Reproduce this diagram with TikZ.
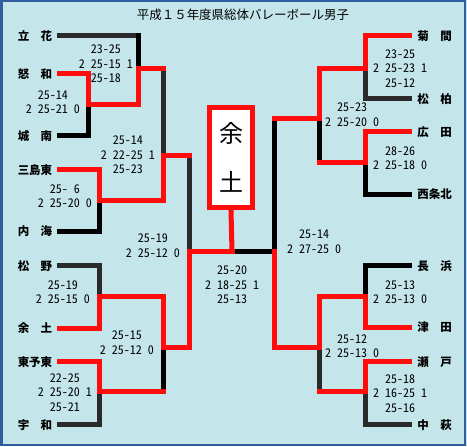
\documentclass[tikz,border=0pt]{standalone}
\usepackage{fontspec}
\setmainfont{Noto Sans CJK JP}
\newfontfamily\scorefont[RawFeature=+hwid]{Noto Sans CJK JP}
\usepackage{xcolor}
\usepackage{tikz}
\definecolor{cBg}{HTML}{C4E6EA}
\definecolor{cFrame}{HTML}{2F5D9E}
\definecolor{cWin}{HTML}{FF0D0D}
\definecolor{cLose}{HTML}{000000}
\definecolor{cDim}{HTML}{2A2A2A}
\tikzset{
  team/.style={inner sep=0pt, outer xsep=7.5pt, minimum width=34pt, font=\fontsize{11.5}{14}\selectfont\bfseries},
  score/.style={inner sep=0pt, align=center, font=\scorefont\fontsize{12}{14.5}\selectfont},
  seg/.style={line width=5pt, line cap=rect, line join=miter},
  win/.style={seg, draw=cWin},
  lose/.style={seg, draw=cLose},
  dim/.style={seg, draw=cDim},
  champ/.style={rectangle, draw=cWin, line width=5pt, fill=white, minimum width=43pt, minimum height=100pt,
    inner sep=0pt, align=center, font=\fontsize{24}{49}\selectfont},
  headline/.style={inner sep=0pt, font=\fontsize{12.5}{14}\selectfont},
}
\begin{document}
\begin{tikzpicture}[x=1pt, y=-1pt]
\fill[cBg] (0,0) rectangle (467,446);
\draw[cFrame, line width=2.5pt] (1.25,1) rectangle (465,444.75);
\useasboundingbox (0,0) rectangle (467,446);

\node[headline] (head) at (243,15) {平成１５年度県総体バレーボール男子};

\foreach \n/\y/\t in {L1/35.5/立　花, L2/73.5/怒　和, L3/135.5/城　南, L4/169.5/三島東, L5/231/内　海,
    L6/265.5/松　野, L7/328/余　土, L8/361.5/東予東, L9/424.5/宇　和}
  \node[team] (\n) at (35,\y) {\t};
\foreach \n/\y/\t in {R1/35.5/菊　間, R2/98.5/松　柏, R3/131.5/広　田, R4/194/西条北,
    R5/265.5/長　浜, R6/327/津　田, R7/361.5/瀬　戸, R8/424.5/中　萩}
  \node[team] (\n) at (434.5,\y) {\t};

\coordinate (a1) at (88,104);
\coordinate (a2) at (138,68);
\coordinate (a3) at (99.5,200);
\coordinate (a4) at (163,155.5);
\coordinate (a5) at (189,251);
\coordinate (a6) at (99.5,296);
\coordinate (a7) at (99.5,391);
\coordinate (a8) at (163,347.5);
\coordinate (b1) at (365,68);
\coordinate (b2) at (365,162);
\coordinate (b3) at (319.5,118);
\coordinate (b4) at (274,251);
\coordinate (b5) at (365,296);
\coordinate (b6) at (365,391);
\coordinate (b7) at (319.5,347);
\coordinate (c) at (232,251);

\draw[dim]  (L1.east) -- (L1.east -| a2);
\draw[lose] (L1.east -| a2) -- (a2);
\draw[lose] (L3.east) -| (a1);
\draw[dim]  (a2 -| a4) -- (a4);
\draw[lose] (L5.east) -| (a3);
\draw[dim]  (a4 -| a5) -- (a5);
\draw[dim]  (L6.east) -| (a6);
\draw[dim]  (L9.east) -| (a7);
\draw[lose] (a7 -| a8) -- (a8);
\draw[dim]  (R2.west) -| (b1);
\draw[lose] (R4.west) -| (b2);
\draw[lose] (b2 -| b3) -- (b3);
\draw[lose] (b3 -| b4) -- (b4);
\draw[lose] (R5.west) -| (b5);
\draw[dim]  (R8.west) -| (b6);
\draw[dim]  (b6 -| b7) -- (b7);
\draw[lose] (b4) -- (c);

\draw[win] (L2.east) -| (a1) -| (a2) -- (a2 -| a4);
\draw[win] (L4.east) -| (a3) -| (a4) -- (a4 -| a5);
\draw[win] (L8.east) -| (a7) -- (a7 -| a8);
\draw[win] (L7.east) -| (a6) -| (a8) -| (a5) -- (c);
\draw[win] (R1.west) -| (b1) -| (b3) -- (b3 -| b4);
\draw[win] (R3.west) -| (b2) -- (b2 -| b3);
\draw[win] (R7.west) -| (b6) -- (b6 -| b7);
\draw[win] (R6.west) -| (b5) -| (b7) -| (b4);

\node[champ] (champ) at (231,157.5) {余\\土};
\draw[win] (c) -- (champ.south);

\foreach \n/\a/\x/\y/\t in {s1/east/80/102/{25-14\\2 25-21 0}, s2/east/133/63.5/{23-25\\2 25-15 1\\25-18},
    s3/east/92/196/{25- 6\\2 25-20 0}, s4/east/155/154.5/{25-14\\2 22-25 1\\25-23},
    s5/east/180/245.5/{25-19\\2 25-12 0}, s6/east/90/292/{25-19\\2 25-15 0},
    s7/east/92/392/{22-25\\2 25-20 1\\25-21}, s8/east/154/342.5/{25-15\\2 25-12 0},
    s9/center/232/284.5/{25-20\\2 18-25 1\\25-13},
    s10/west/373/68/{23-25\\2 25-23 1\\25-12}, s11/west/325/114.5/{25-23\\2 25-20 0},
    s12/west/373/158/{28-26\\2 25-18 0}, s13/west/287/241.5/{25-14\\2 27-25 0},
    s14/west/373/292/{25-13\\2 25-13 0}, s15/west/325/346/{25-12\\2 25-13 0},
    s16/west/373/393/{25-18\\2 16-25 1\\25-16}}
  \node[score, anchor=\a] (\n) at (\x,\y) {\t};
\end{tikzpicture}
\end{document}
